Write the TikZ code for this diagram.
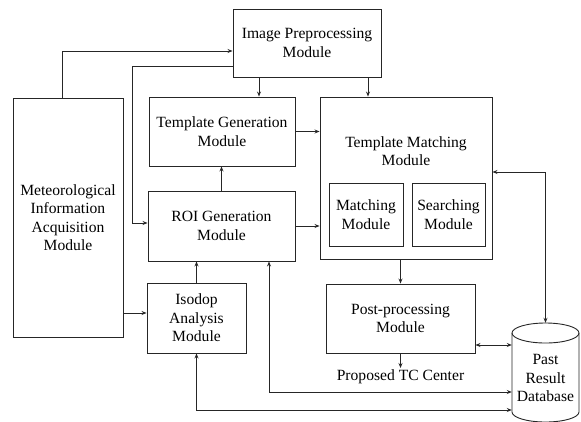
\documentclass[tikz,border=0pt]{standalone}
\usepackage{fontspec}
\setmainfont{Liberation Serif}
\usetikzlibrary{arrows.meta}
\begin{document}
\begin{tikzpicture}[x=1pt,y=-1pt,
  box/.style={draw=black!85, line width=0.9pt, align=center, inner sep=0pt, font=\fontsize{15.6}{18.4}\selectfont},
  txt/.style={align=center, inner sep=1pt, font=\fontsize{15.6}{18.4}\selectfont},
  arr/.style={draw=black!85, line width=0.9pt, -{Stealth[length=5pt,width=4pt]}},
  arrr/.style={draw=black!85, line width=0.9pt, {Stealth[length=5pt,width=4pt]}-{Stealth[length=5pt,width=4pt]}}]
\useasboundingbox (0,0) rectangle (581,421);
% boxes
\node[box, minimum width=148pt, minimum height=68pt] (ip) at (307,43) {Image Preprocessing\\Module};
\node[box, minimum width=146pt, minimum height=69pt] (tg) at (222,131.5) {Template Generation\\Module};
\node[box, minimum width=172pt, minimum height=162pt] (tm) at (406,178) {};
\node[txt] (tmt) at (406,151) {Template Matching\\Module};
\node[box, minimum width=74pt, minimum height=63pt] (mm) at (366,214.5) {Matching\\Module};
\node[box, minimum width=73pt, minimum height=63pt] (sm) at (448.5,214.5) {Searching\\Module};
\node[box, minimum width=147pt, minimum height=70pt] (roi) at (221.5,226) {ROI Generation\\Module};
\node[box, minimum width=99pt, minimum height=70pt] (iso) at (196.5,318) {Isodop\\Analysis\\Module};
\node[box, minimum width=110pt, minimum height=239pt] (met) at (68,217.5) {Meteorological\\Information\\Acquisition\\Module};
\node[box, minimum width=149pt, minimum height=69pt] (pp) at (400.5,318.5) {Post-processing\\Module};
\node[txt, anchor=north] (out) at (400.5,368) {Proposed TC Center};
% database cylinder
\draw[draw=black!85, line width=0.9pt] (512,333) -- (512,412) arc[start angle=180, end angle=360, x radius=33.5pt, y radius=10pt] -- (579,333);
\draw[draw=black!85, line width=0.9pt] (545.5,333) ellipse[x radius=33.5pt, y radius=10pt];
\node[minimum width=67pt, minimum height=98pt, inner sep=0pt] (db) at (545.5,372) {};
\node[txt] (dbt) at (545.5,378) {Past\\Result\\Database};
% connectors
\draw[arr] ([xshift=-6pt]met.north) |- ([yshift=-8pt]ip.west);
\draw[arr] ([yshift=-23pt]ip.west) -| ([xshift=-15pt,yshift=3pt]roi.west) -- ([yshift=3pt]roi.west);
\draw[arr] ([xshift=-48pt]ip.south) -- ([xshift=-48pt]ip.south |- tg.north);
\draw[arr] ([xshift=61pt]ip.south) -- ([xshift=61pt]ip.south |- tm.north);
\draw[arr] (tg.east) -- (tg.east -| tm.west);
\draw[arr] (roi.north) -- (roi.north |- tg.south);
\draw[arr] (roi.east) -- (roi.east -| tm.west);
\draw[arr] (iso.north) -- (iso.north |- roi.south);
\draw[arr] ([yshift=5pt]iso.west -| met.east) -- ([yshift=5pt]iso.west);
\draw[arr] (pp.north |- tm.south) -- (pp.north);
\draw[arr] (pp.south) -- (out.north);
\draw[arrr] ([yshift=-26.5pt]pp.east) -- ([yshift=-26.5pt]pp.east -| db.west);
\draw[arrr] ([yshift=6pt]tm.east) -| (db.north);
\draw[arrr] ([xshift=47.5pt]roi.south) |- ([yshift=-20pt]db.west);
\draw[arrr] (iso.south) |- ([yshift=-38pt]db.west);
\end{tikzpicture}
\end{document}
